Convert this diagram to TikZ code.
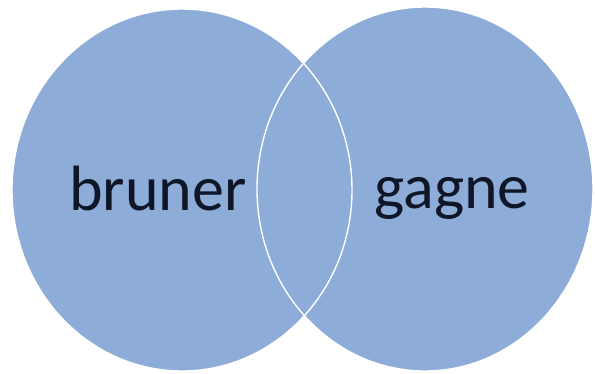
\documentclass[tikz,border=0pt]{standalone}
\usepackage{fontspec}
\setmainfont{Carlito}
\definecolor{vennfill}{RGB}{142,172,216}
\definecolor{venntext}{RGB}{14,22,40}
\begin{document}
\begin{tikzpicture}[x=1pt,y=-1pt,
  setshape/.style={fill=vennfill,draw=white,line width=1.4pt},
  settext/.style={anchor=base,text=venntext,font=\fontsize{64}{70}\selectfont,inner sep=0pt}]
\useasboundingbox (0,0) rectangle (595,373);
\fill[white] (0,0) rectangle (595,373);
\path[fill=vennfill] (182,190) ellipse [x radius=170, y radius=181];
\path[fill=vennfill] (425,189) ellipse [x radius=168, y radius=182];
\draw[white,line width=1.4pt] (182,190) ellipse [x radius=170, y radius=181];
\draw[white,line width=1.4pt] (425,189) ellipse [x radius=168, y radius=182];
\node[settext] (bruner) at (158,210) {bruner};
\node[settext] (gagne) at (452,208) {gagne};
\end{tikzpicture}
\end{document}
